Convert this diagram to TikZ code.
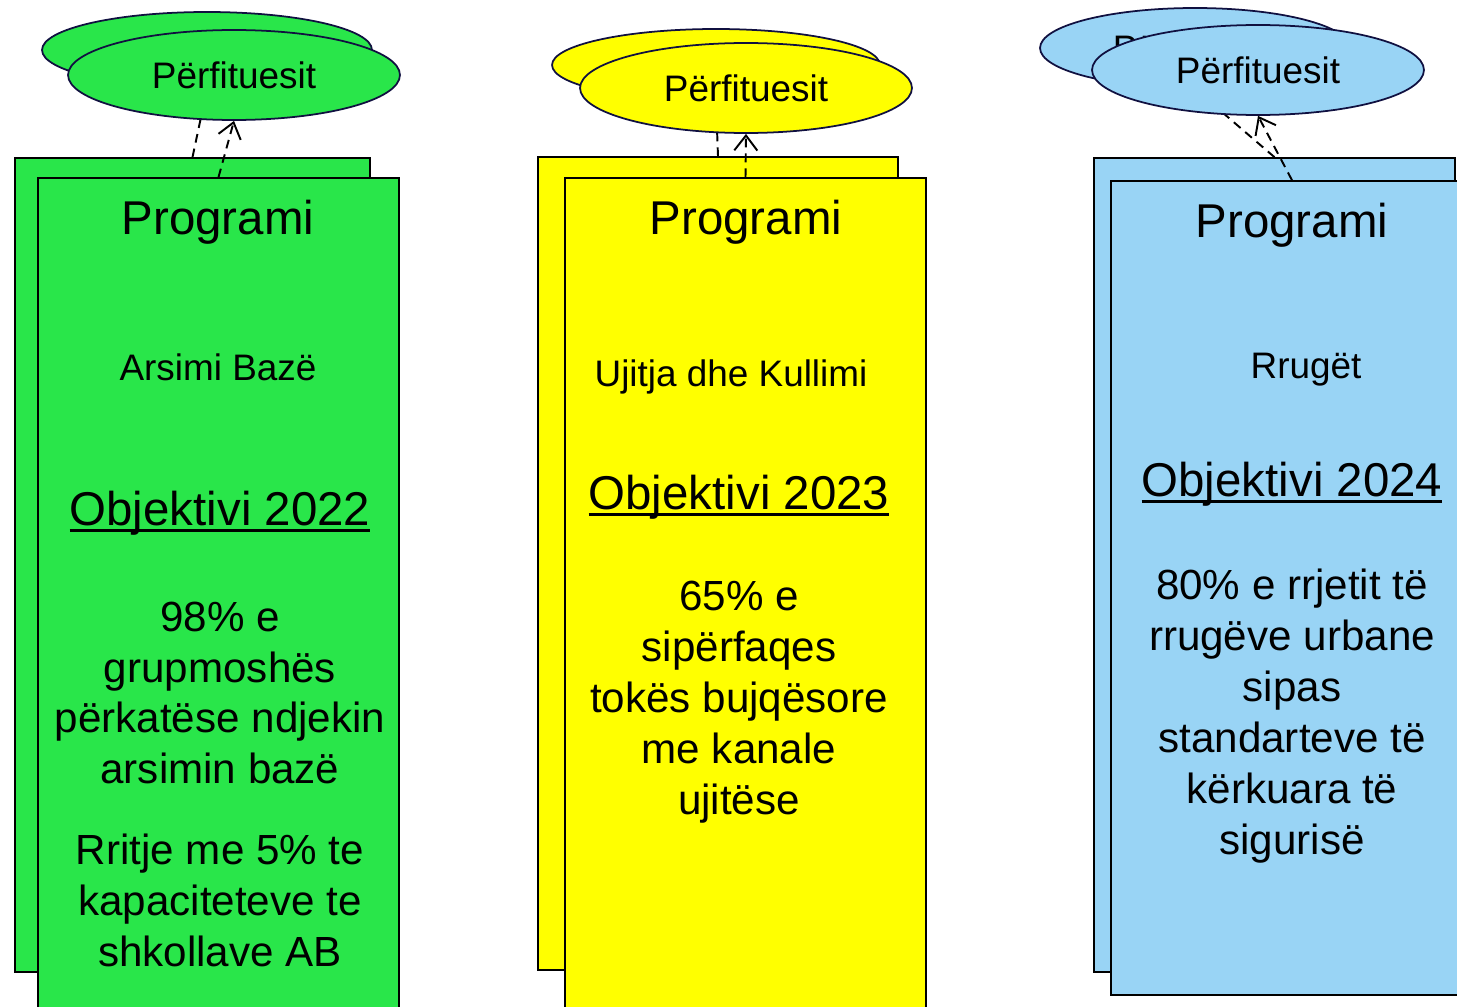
\documentclass[tikz,border=0pt]{standalone}
\usepackage{fontspec}
\setmainfont{Liberation Sans}
\usepackage{tikz}
\usetikzlibrary{arrows.meta,shapes.geometric,positioning}
\definecolor{progGreen}{RGB}{41,230,74}
\definecolor{progYellow}{RGB}{255,255,0}
\definecolor{progBlue}{RGB}{153,212,245}
\definecolor{benefEdge}{RGB}{16,16,64}
\newcommand{\objline}[1]{\setbox0\hbox{#1}\rlap{\rule[-4pt]{\wd0}{1.6pt}}\box0}
\tikzset{
  progbox/.style={draw=black,line width=1pt,minimum width=7.22cm,inner sep=0pt},
  benef/.style={ellipse,draw=benefEdge,line width=1pt,inner sep=0pt,
                font=\fontsize{21}{25}\selectfont},
  link/.style={line width=1.1pt,dash pattern=on 5pt off 3.5pt,
               -{Straight Barb[length=3mm,width=4.6mm]}},
  progtitle/.style={font=\fontsize{27}{32}\selectfont},
  progsub/.style={font=\fontsize{21}{25}\selectfont},
  progtext/.style={align=center,font=\fontsize{24}{29}\selectfont}
}
\begin{document}
\begin{tikzpicture}[x=0.02cm,y=-0.02cm]
 \useasboundingbox (0,0) rectangle (1457,1007);
 \clip (0,0) rectangle (1457,1007);
 % arsimi baze
 \node[benef,fill=progGreen,minimum width=6.6cm,minimum height=1.52cm] (bf1b) at (207,50) {};
 \node[progbox,fill=progGreen,minimum width=7.1cm,minimum height=16.28cm] (pg1b) at (192.5,565) {};
 \draw[link] (pg1b.north) -- (bf1b.south);
 \node[benef,fill=progGreen,minimum width=6.64cm,minimum height=1.8cm] (bf1) at (234,75) {Përfituesit};
 \node[progbox,fill=progGreen,minimum height=17cm] (pg1) at (218.5,603) {};
 \draw[link] (pg1.north) -- (bf1.south);
 \node[progtitle] at (218,222) {Programi};
 \node[progsub] at (218,367) {Arsimi Bazë};
 \node[progtitle] at (220,513) {\objline{Objektivi 2022}};
 \node[progtext] at (220,693) {98\% e\\grupmoshës\\përkatëse ndjekin\\arsimin bazë};
 \node[progtext] at (220,900) {Rritje me 5\% te\\kapaciteteve te\\shkollave AB};
 % ujitja dhe kullimi
 \node[benef,fill=progYellow,minimum width=6.56cm,minimum height=1.44cm] (bf2b) at (716,65) {};
 \node[progbox,fill=progYellow,minimum width=7.2cm,minimum height=16.26cm] (pg2b) at (718,563.5) {};
 \draw[link] (pg2b.north) -- (bf2b.south);
 \node[benef,fill=progYellow,minimum width=6.64cm,minimum height=1.8cm] (bf2) at (746,88) {Përfituesit};
 \node[progbox,fill=progYellow,minimum height=17cm] (pg2) at (745.5,603) {};
 \draw[link] (pg2.north) -- (bf2.south);
 \node[progtitle] at (746,222) {Programi};
 \node[progsub] at (731,377) {Ujitja dhe Kullimi};
 \node[progtitle] at (739,497) {\objline{Objektivi 2023}};
 \node[progtext] at (739,702) {65\% e\\sipërfaqes\\tokës bujqësore\\me kanale\\ujitëse};
 % rruget
 \node[benef,fill=progBlue,minimum width=6.2cm,minimum height=1.6cm] (bf3b) at (1195,48) {Përfituesit};
 \node[progbox,fill=progBlue,minimum height=16.28cm] (pg3b) at (1274.5,565) {};
 \draw[link] (pg3b.north) -- (bf3b.south);
 \node[benef,fill=progBlue,minimum width=6.64cm,minimum height=1.8cm] (bf3) at (1258,70) {Përfituesit};
 \node[progbox,fill=progBlue,minimum height=16.28cm,minimum width=7.24cm] (pg3) at (1292,588) {};
 \draw[link] (pg3.north) -- (bf3.south);
 \node[progtitle] at (1292,225) {Programi};
 \node[progsub] at (1306,370) {Rrugët};
 \node[progtitle] at (1292,484) {\objline{Objektivi 2024}};
 \node[progtext] at (1292,716) {80\% e rrjetit të\\rrugëve urbane\\sipas\\standarteve të\\kërkuara të\\sigurisë};
\end{tikzpicture}
\end{document}
